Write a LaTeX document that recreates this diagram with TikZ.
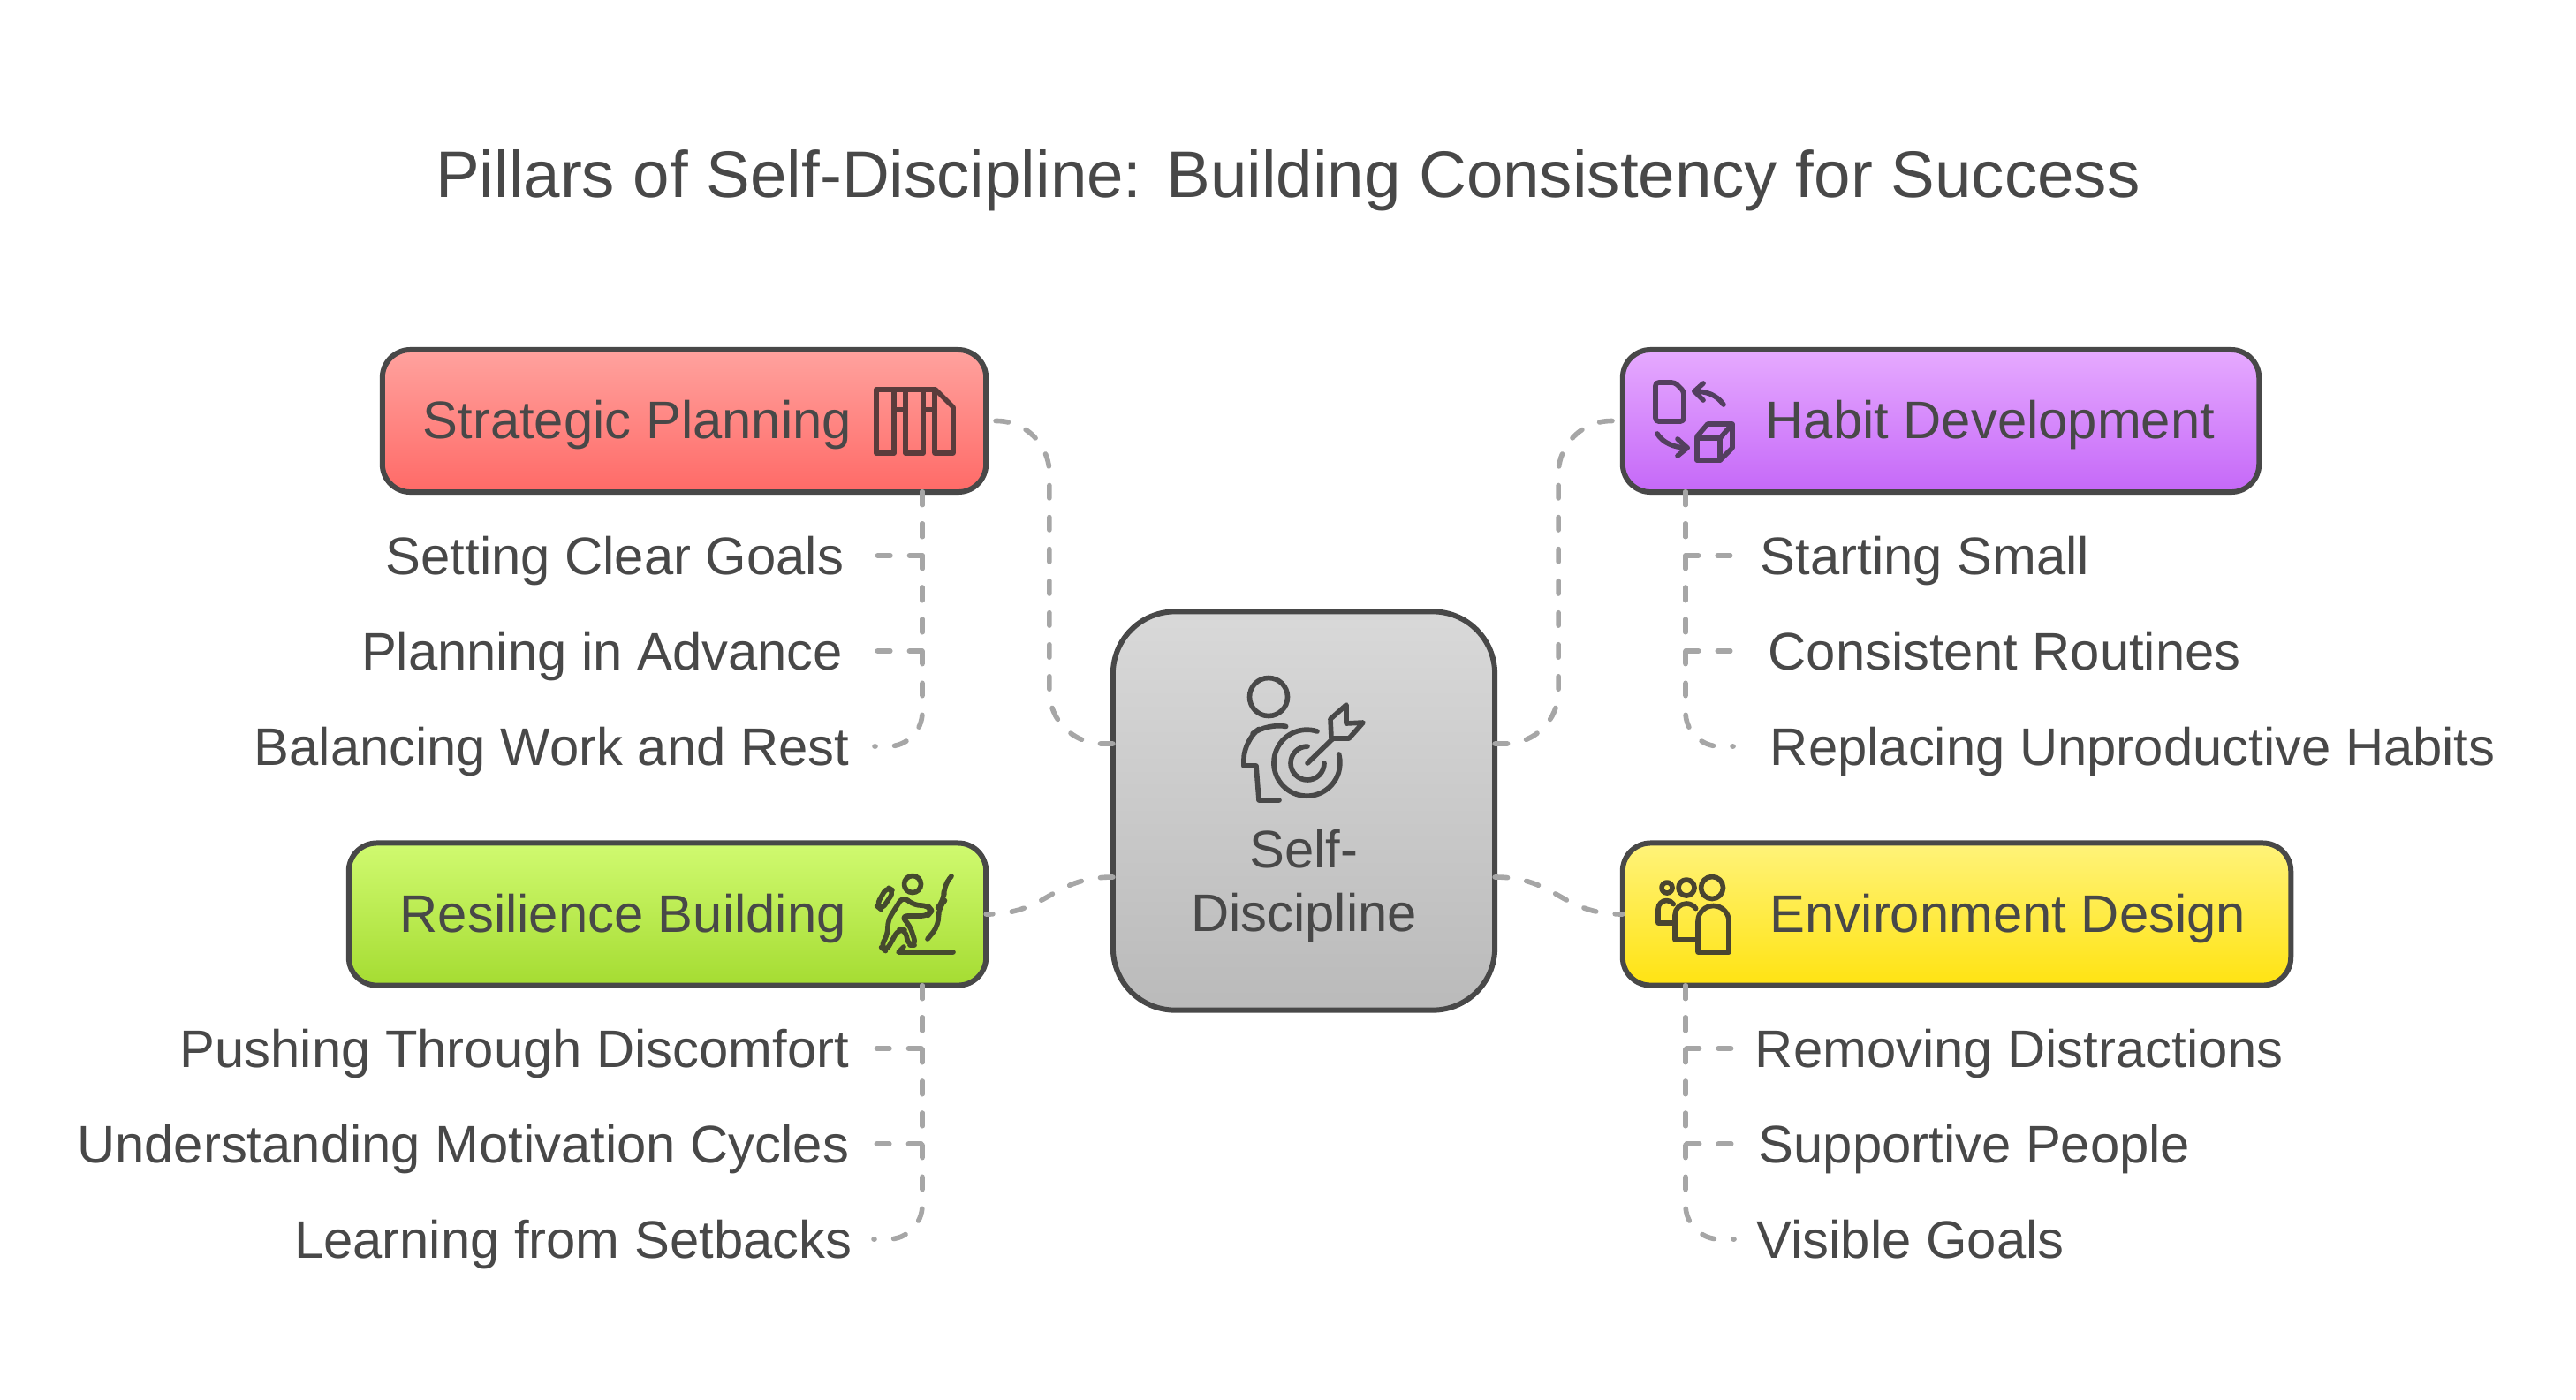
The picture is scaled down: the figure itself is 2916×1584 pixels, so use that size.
\documentclass[tikz,border=0pt]{standalone}
\usepackage{fontspec}
\setmainfont{Liberation Sans}
\usetikzlibrary{calc}

\definecolor{inkgray}{HTML}{484848}
\definecolor{dashgray}{HTML}{A6A6A6}
\definecolor{redtop}{HTML}{FFA29E}
\definecolor{redend}{HTML}{FF6A67}
\definecolor{violettop}{HTML}{E6AAFF}
\definecolor{violetend}{HTML}{C568F8}
\definecolor{greentop}{HTML}{D0FA70}
\definecolor{greenend}{HTML}{A5DC32}
\definecolor{yellowtop}{HTML}{FFF37A}
\definecolor{yellowend}{HTML}{FFE312}
\definecolor{redink}{HTML}{5A3C3C}
\definecolor{violetink}{HTML}{533F5F}
\definecolor{greenink}{HTML}{454A2E}
\definecolor{yellowink}{HTML}{4A4530}

\tikzset{
    pillar/.style={draw=inkgray, line width=1.7pt, rounded corners=9pt, inner sep=0pt, outer sep=0pt, minimum height=1.61cm},
    boxlabel/.style={text=inkgray, inner sep=0pt, font=\fontsize{17}{20}\selectfont},
    itemleft/.style={text=inkgray, anchor=east, inner ysep=0pt, text height=17pt, text depth=5.05pt, font=\fontsize{17}{20}\selectfont},
    itemright/.style={itemleft, anchor=west},
    link/.style={draw=dashgray, line width=1.6pt, line cap=round, dash pattern=on 4.1pt off 6.15pt},
    icon/.style={draw=#1, line width=1.6pt, line cap=round, line join=round},
}

\begin{document}
\begin{tikzpicture}[x=0.01cm, y=-0.01cm]
    \useasboundingbox (0,0) rectangle (2916,1584);

    % Title.
    \node[text=inkgray, inner sep=0pt, anchor=base, font=\fontsize{21.2}{25}\selectfont] (title) at (1458,223) {Pillars of Self-Discipline: Building Consistency for Success};

    % Boxes.
    \node[pillar, minimum width=4.32cm, minimum height=4.51cm, rounded corners=20pt, top color=black!15, bottom color=black!27] (center) at (1476,918) {};
    \node[pillar, minimum width=6.83cm, top color=redtop, bottom color=redend] (strategic) at (774.5,476.5) {};
    \node[pillar, minimum width=7.20cm, top color=violettop, bottom color=violetend] (habit) at (2197,476.5) {};
    \node[pillar, minimum width=7.21cm, top color=greentop, bottom color=greenend] (resilience) at (755.5,1035) {};
    \node[pillar, minimum width=7.56cm, top color=yellowtop, bottom color=yellowend] (environment) at (2215,1035) {};

    % Box texts.
    \node[boxlabel, anchor=base west] (strategicText) at (478,496) {Strategic Planning};
    \node[boxlabel, anchor=base west] (habitText) at (1998,496) {Habit Development};
    \node[boxlabel, anchor=base west] (resilienceText) at (452,1055) {Resilience Building};
    \node[boxlabel, anchor=base west] (environmentText) at (2003,1055) {Environment Design};
    \node[boxlabel, anchor=base] (selfText) at (1476,982) {Self-};
    \node[boxlabel, anchor=base] (disciplineText) at (1476,1054) {Discipline};

    % Items.
    \node[itemleft, inner xsep=9.7pt] (goals) at (990,629) {Setting Clear Goals};
    \node[itemleft, inner xsep=10pt] (advance) at (990,737) {Planning in Advance};
    \node[itemleft, inner xsep=8pt] (balance) at (990,845) {Balancing Work and Rest};
    \node[itemleft, inner xsep=8pt] (pushing) at (990,1187) {Pushing Through Discomfort};
    \node[itemleft, inner xsep=8pt] (cycles) at (990,1295) {Understanding Motivation Cycles};
    \node[itemleft, inner xsep=6.8pt] (setbacks) at (989,1403) {Learning from Setbacks};
    \node[itemright, inner xsep=8pt] (small) at (1964,629) {Starting Small};
    \node[itemright, inner xsep=10.5pt] (routines) at (1964,737) {Consistent Routines};
    \node[itemright, inner xsep=11.7pt] (replacing) at (1962,845) {Replacing Unproductive Habits};
    \node[itemright, inner xsep=6.3pt] (distractions) at (1964,1187) {Removing Distractions};
    \node[itemright, inner xsep=7.4pt] (people) at (1964,1295) {Supportive People};
    \node[itemright, inner xsep=7.1pt] (visible) at (1963,1403) {Visible Goals};

    % Anchors on the boxes.
    \coordinate (centerUL) at ($(center.west)+(0,-76)$);
    \coordinate (centerLL) at ($(center.west)+(0,75)$);
    \coordinate (centerUR) at ($(center.east)+(0,-76)$);
    \coordinate (centerLR) at ($(center.east)+(0,75)$);
    \coordinate (strategicFoot) at (1044,557);
    \coordinate (resilienceFoot) at (1044,1116);
    \coordinate (habitFoot) at (1908,557);
    \coordinate (environmentFoot) at (1908,1116);

    % Links to the center.
    \draw[link, rounded corners=17pt] (centerUL) -- ++(-72,0) |- (strategic.east);
    \draw[link, rounded corners=17pt] (centerUR) -- ++(72,0) |- (habit.west);
    \draw[link] (centerLL) to[out=180, in=0, looseness=1.2] (resilience.east);
    \draw[link] (centerLR) to[out=0, in=180, looseness=1.2] (environment.west);

    % Links to the items.
    \draw[link] (strategicFoot) |- (goals.east);
    \draw[link] (strategicFoot) |- (advance.east);
    \draw[link, rounded corners=11pt] (strategicFoot) |- (balance.east);
    \draw[link] (resilienceFoot) |- (pushing.east);
    \draw[link] (resilienceFoot) |- (cycles.east);
    \draw[link, rounded corners=11pt] (resilienceFoot) |- (setbacks.east);
    \draw[link] (habitFoot) |- (small.west);
    \draw[link] (habitFoot) |- (routines.west);
    \draw[link, rounded corners=11pt] (habitFoot) |- (replacing.west);
    \draw[link] (environmentFoot) |- (distractions.west);
    \draw[link] (environmentFoot) |- (people.west);
    \draw[link, rounded corners=11pt] (environmentFoot) |- (visible.west);

    % Icon, person and target.
    \draw[icon=inkgray] (1436,789) circle (21.5);
    \draw[icon=inkgray, rounded corners=6pt] (1449,821) -- (1435,818) -- (1408,838) -- (1408,867);
    \draw[icon=inkgray] (1408,867) -- (1422,867) -- (1425,906) -- (1448,906);
    \draw[icon=inkgray] (1491,828) arc[start angle=-72, end angle=-375, radius=37.5];
    \draw[icon=inkgray] (1480,845) arc[start angle=-90, end angle=-360, radius=19];
    \draw[icon=inkgray] (1480,864) -- (1508,837);
    \draw[icon=inkgray] (1506,814) -- (1524,798) -- (1524,819) -- (1543,818) -- (1527,836) -- (1507,836) -- cycle;

    % Icon, columns.
    \draw[icon=redink] (992,441) rectangle (1012,513);
    \draw[icon=redink] (1025,441) rectangle (1045,513);
    \draw[icon=redink] (1012,441) -- (1059,441) -- (1079,461) -- (1079,513) -- (1058,513) -- (1058,441);
    \draw[icon=redink] (1012,464) -- (1025,464) (1045,464) -- (1058,464);

    % Icon, document and cube.
    \draw[icon=violetink, rounded corners=1pt] (1874,433) -- (1896,433) -- (1906,443) -- (1906,477) -- (1874,477) -- cycle;
    \draw[icon=violetink] (1951,458) .. controls (1943,447) and (1932,443) .. (1918,443);
    \draw[icon=violetink] (1928,434) -- (1918,443) -- (1928,453);
    \draw[icon=violetink] (1876,491) .. controls (1882,501) and (1895,507) .. (1910,507);
    \draw[icon=violetink] (1899,497) -- (1910,507) -- (1899,516);
    \draw[icon=violetink] (1921,496) rectangle (1947,521);
    \draw[icon=violetink] (1921,494) -- (1933,480) -- (1961,480) -- (1961,507) -- (1947,521) (1947,496) -- (1961,480);

    % Icon, climber.
    \draw[icon=greenink] (1033,1001) circle (9.5);
    \draw[icon=greenink, rounded corners=2pt] (1004,1004) -- (1012,1009) -- (998,1030) -- (992,1025) -- cycle;
    \draw[icon=greenink, rounded corners=2pt] (1022,1015) -- (1035,1025) -- (1050,1025) -- (1055,1031) -- (1050,1037) -- (1020,1037) -- (1030,1048) -- (1037,1070) -- (1028,1070) -- (1025,1053) -- (1017,1052) -- (1003,1077) -- (997,1072) -- (1005,1057) -- (1005,1042) -- cycle;
    \draw[icon=greenink, rounded corners=3pt] (1077,992) -- (1068,1003) -- (1069,1020) -- (1062,1027) -- (1063,1047) -- (1050,1063);
    \draw[icon=greenink] (1023,1072) -- (1017,1078) -- (1079,1078);

    % Icon, people.
    \draw[icon=yellowink] (1887,1005) circle (6);
    \draw[icon=yellowink] (1909,1005) circle (9);
    \draw[icon=yellowink] (1938,1005) circle (12.5);
    \draw[icon=yellowink] (1922,1078) -- (1922,1043) arc[start angle=180, end angle=360, radius=17.5] -- (1957,1078) -- cycle;
    \draw[icon=yellowink] (1922,1064) -- (1896,1064) -- (1896,1036) arc[start angle=180, end angle=325, radius=13];
    \draw[icon=yellowink] (1896,1045) -- (1877,1045) -- (1877,1029) arc[start angle=180, end angle=325, radius=9.5];
\end{tikzpicture}
\end{document}
